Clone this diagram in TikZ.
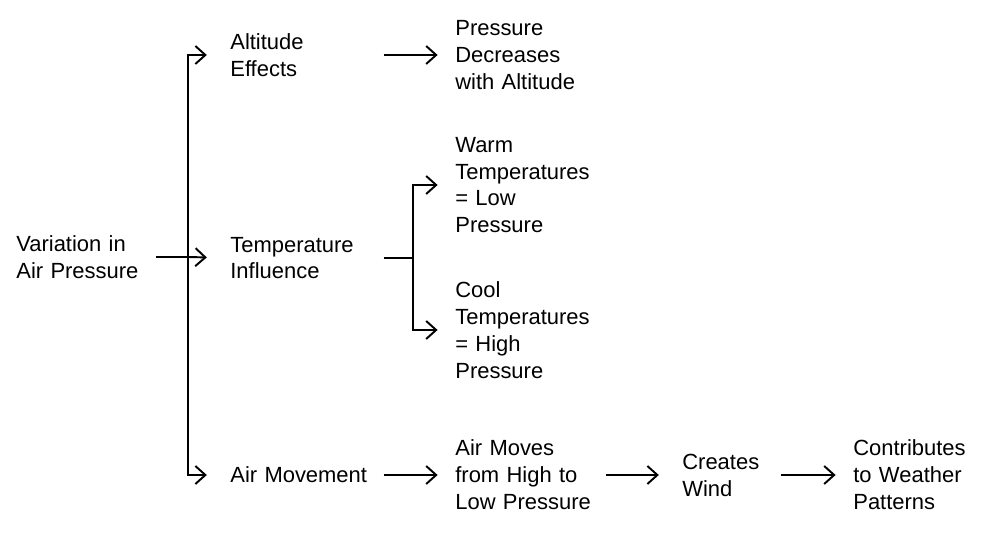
\documentclass[tikz,border=0pt]{standalone}
\usepackage{fontspec}
\setmainfont{Liberation Sans}
\usetikzlibrary{arrows.meta}
\tikzset{
  txt/.style={anchor=west,inner sep=0pt,align=left,font=\fontsize{12.5}{15.3}\selectfont},
  conn/.style={line width=1.1pt,-{Straight Barb[length=2mm,width=3.6mm]}},
  plain/.style={line width=1.1pt}
}
\begin{document}
\begin{tikzpicture}[x=0.02cm,y=-0.02cm]
  \useasboundingbox (0,0) rectangle (1000,543);
  \node[txt,text width=2.78cm] (root) at (16,257) {Variation in\\Air Pressure};
  \node[txt,text width=3.06cm] (alt) at (230,55) {Altitude\\Effects};
  \node[txt,text width=3.06cm] (temp) at (230,258) {Temperature\\Influence};
  \node[txt,text width=3.06cm] (move) at (230,475) {Air Movement};
  \node[txt,text width=3cm] (dec) at (455,55) {Pressure\\Decreases\\with Altitude};
  \node[txt,text width=3cm] (warm) at (455,185) {Warm\\Temperatures\\= Low\\Pressure};
  \node[txt,text width=3cm] (cool) at (455,330) {Cool\\Temperatures\\= High\\Pressure};
  \node[txt,text width=3cm] (moves) at (455,475) {Air Moves\\from High to\\Low Pressure};
  \node[txt,text width=1.96cm] (wind) at (682,475) {Creates\\Wind};
  \node[txt,text width=3cm] (weather) at (853,475) {Contributes\\to Weather\\Patterns};

  \coordinate (trunk) at (188,257);
  \coordinate (fork) at (413,258);

  \draw[plain] (root.east) -- (trunk);
  \draw[conn,shorten >=12\pgflinewidth] (trunk) |- (alt.west);
  \draw[conn,shorten >=12\pgflinewidth] (trunk) -- (temp.west);
  \draw[conn,shorten >=12\pgflinewidth] (trunk) |- (move.west);

  \draw[conn,shorten >=9\pgflinewidth] (alt.east) -- (dec.west);
  \draw[plain] (temp.east) -- (fork);
  \draw[conn,shorten >=9\pgflinewidth] (fork) |- (warm.west);
  \draw[conn,shorten >=9\pgflinewidth] (fork) |- (cool.west);

  \draw[conn,shorten >=9\pgflinewidth] (move.east) -- (moves.west);
  \draw[conn,shorten >=12\pgflinewidth] (moves.east) -- (wind.west);
  \draw[conn,shorten >=9\pgflinewidth] (wind.east) -- (weather.west);
\end{tikzpicture}
\end{document}
